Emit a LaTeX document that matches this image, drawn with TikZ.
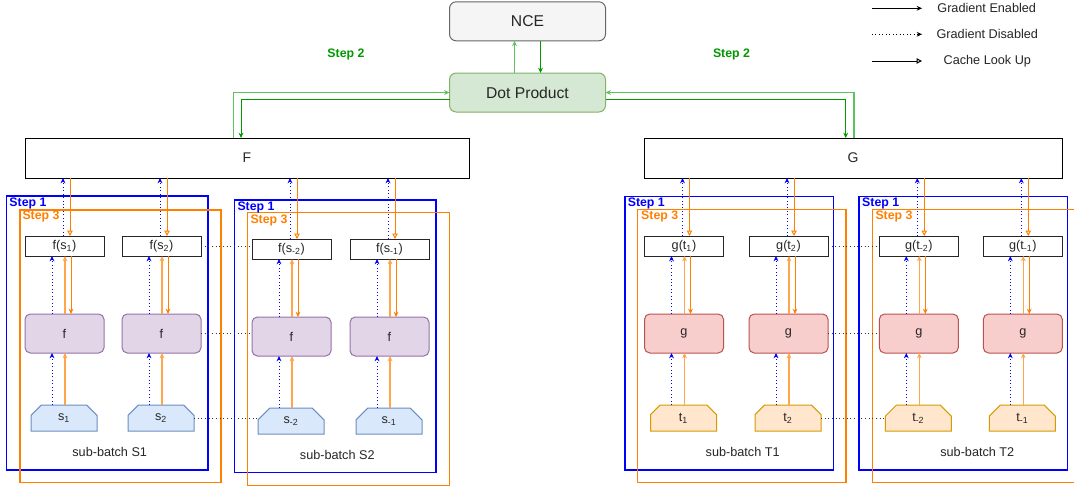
\documentclass[tikz,border=0pt]{standalone}
\usepackage{fontspec}
\setmainfont{Liberation Sans}
\usetikzlibrary{arrows.meta,calc,shapes.misc}
\definecolor{cblue}{HTML}{0000FF}
\definecolor{corange}{HTML}{FF8000}
\definecolor{corangel}{HTML}{FFA64D}
\definecolor{cgreen}{HTML}{009900}
\definecolor{cgreenl}{HTML}{5EC25E}
\definecolor{ffill}{HTML}{E1D5E7}
\definecolor{fstroke}{HTML}{9673A6}
\definecolor{gfill}{HTML}{F8CECC}
\definecolor{gstroke}{HTML}{B85450}
\definecolor{sfill}{HTML}{DAE8FC}
\definecolor{sstroke}{HTML}{6C8EBF}
\definecolor{tfill}{HTML}{FFE6CC}
\definecolor{tstroke}{HTML}{D79B00}
\definecolor{ncefill}{HTML}{F5F5F5}
\definecolor{ncestroke}{HTML}{666666}
\definecolor{dotfill}{HTML}{D5E8D4}
\definecolor{dotstroke}{HTML}{82B366}
\tikzset{
  every node/.style={inner sep=0pt, outer sep=0pt, font=\fontsize{9.5}{11}\selectfont, text=black!85},
  tip/.style={-{Stealth[length=4pt,width=3.6pt]}},
  otip/.style={-{Triangle[open,length=4pt,width=4pt]}},
  outbox/.style={draw=black!85, fill=white, line width=0.75pt, minimum width=59.25pt, minimum height=15pt},
  bigbox/.style={draw=black, fill=white, line width=0.75pt, minimum height=30pt, font=\fontsize{10.5}{12}\selectfont},
  fproc/.style={draw=fstroke, fill=ffill, rounded corners=4pt, line width=0.75pt, minimum width=59.25pt, minimum height=29.25pt},
  gproc/.style={draw=gstroke, fill=gfill, rounded corners=4pt, line width=0.75pt, minimum width=59.25pt, minimum height=29.25pt},
  inshape/.style={chamfered rectangle, chamfered rectangle corners={north west,north east}, chamfered rectangle xsep=8pt, chamfered rectangle ysep=8pt, line width=0.75pt, minimum width=49.5pt, minimum height=19.5pt},
  sin/.style={inshape, draw=sstroke, fill=sfill},
  tin/.style={inshape, draw=tstroke, fill=tfill},
  topbox/.style={rounded corners=5pt, line width=0.75pt, minimum width=117pt, minimum height=29.25pt, font=\fontsize{11.75}{13}\selectfont},
  bdot/.style={draw=cblue, dotted, line width=0.6pt, tip},
  ocache/.style={draw=corange, line width=0.75pt, otip},
  oup/.style={draw=corangel, line width=1pt, tip},
  odown/.style={draw=corange, line width=0.75pt, tip},
  gup/.style={draw=cgreenl, line width=0.9pt, tip},
  gdown/.style={draw=cgreen, line width=0.75pt, tip},
  hdot/.style={draw=black!80, dotted, line width=0.75pt},
  s1box/.style={draw=cblue, line width=1pt},
  s3box/.style={draw=corange, line width=1pt},
  s1lbl/.style={anchor=west, text=cblue, font=\bfseries\fontsize{9.25}{11}\selectfont},
  s3lbl/.style={anchor=west, text=corange, font=\bfseries\fontsize{9.25}{11}\selectfont},
  s2lbl/.style={text=cgreen, font=\bfseries\fontsize{9.25}{11}\selectfont},
  leg/.style={font=\fontsize{9.5}{11}\selectfont},
}
\newcommand\mkcol[9]{%
  \node[outbox] (#1o) at (#2,246+#3) {#6};
  \node[#4] (#1p) at (#2,333.5+#3) {#7};
  \node[#5] (#1i) at (#2-0.5,418+#3) {#8};
  \draw[bdot] ($(#1o.north)+(-1.5,0)$) -- ($(#1o.north |- #9.south)+(-1.5,0)$);
  \draw[ocache] ($(#1o.north |- #9.south)+(5.5,0)$) -- ($(#1o.north)+(5.5,0)$);
  \draw[bdot] ($(#1p.north)+(-12.5,0)$) -- ($(#1o.south)+(-12.5,0)$);
  \draw[oup] ($(#1p.north)+(0.5,0)$) -- ($(#1o.south)+(0.5,0)$);
  \draw[odown] ($(#1o.south)+(6.5,0)$) -- ($(#1p.north)+(6.5,0)$);
  \draw[bdot] ($(#1i.north)+(-12,0)$) -- ($(#1p.south)+(-12.5,0)$);
  \draw[oup] ($(#1i.north)+(1,0)$) -- ($(#1p.south)+(0.5,0)$);
}
\begin{document}
\begin{tikzpicture}[x=0.75pt,y=-0.75pt]
\clip (0,0) rectangle (1074,489);
\fill[white] (0,0) rectangle (1074,489);

% top nodes
\node[topbox, draw=ncestroke, fill=ncefill] (NCE) at (527.5,21.3) {NCE};
\node[topbox, draw=dotstroke, fill=dotfill] (Dot) at (527.5,92.5) {Dot Product};
\node[s2lbl] (st2a) at (346,54.5) {Step 2};
\node[s2lbl] (st2b) at (731.5,54.5) {Step 2};

% F and G
\node[bigbox, minimum width=333pt] (F) at (247,158) {F};
\node[bigbox, minimum width=313.5pt] (G) at (853,158) {G};

% green connectors
\draw[gup] ($(Dot.north)+(-13,0)$) -- ($(NCE.south)+(-13,0)$);
\draw[gdown] ($(NCE.south)+(13,0)$) -- ($(Dot.north)+(13,0)$);
\draw[gup] ($(F.north)+(-13.7,0)$) |- (Dot.west);
\draw[gdown] ($(Dot.west)+(0,6.8)$) -| ($(F.north)+(-6,0)$);
\draw[gup] ($(G.north)+(1,0)$) |- (Dot.east);
\draw[gdown] ($(Dot.east)+(0,6.8)$) -| ($(G.north)+(-7.3,0)$);

% legend
\coordinate (l1a) at (872,8.3);  \coordinate (l1b) at (922,8.3);
\coordinate (l2a) at (872,34.3); \coordinate (l2b) at (922,34.3);
\coordinate (l3a) at (872,61);   \coordinate (l3b) at (922,61);
\draw[black, line width=0.75pt, tip] (l1a) -- (l1b);
\draw[black, dotted, line width=0.6pt, tip] (l2a) -- (l2b);
\draw[black, line width=0.75pt, otip] (l3a) -- (l3b);
\node[leg] (lg1) at (986.7,8.3) {Gradient Enabled};
\node[leg] (lg2) at (987.3,34.3) {Gradient Disabled};
\node[leg] (lg3) at (987.3,61) {Cache Look Up};

% step boxes
\draw[s1box] (6.7,196) rectangle (208,470);
\draw[s3box] (20,210) rectangle (221,482.7);
\draw[s1box] (234.3,200) rectangle (436,472.7);
\draw[s3box] (247.7,212.7) rectangle (449.3,485.7);
\draw[s1box] (625,196.7) rectangle (833.3,470);
\draw[s3box] (637.7,209.3) rectangle (846,482.7);
\draw[s1box] (859,196.7) rectangle (1067.7,470);
\draw[s3box] (872.3,209.3) rectangle (1085,482.7);

\node[s1lbl] (sl1a) at (9.5,203.3) {Step 1};
\node[s3lbl] (sl3a) at (22.5,216.8) {Step 3};
\node[s1lbl] (sl1b) at (237.5,207.3) {Step 1};
\node[s3lbl] (sl3b) at (250.5,220.7) {Step 3};
\node[s1lbl] (sl1c) at (627.8,203.3) {Step 1};
\node[s3lbl] (sl3c) at (641.2,216.8) {Step 3};
\node[s1lbl] (sl1d) at (862.2,203.3) {Step 1};
\node[s3lbl] (sl3d) at (875.5,216.8) {Step 3};

% columns
\mkcol{sa}{64.5}{0}{fproc}{sin}{f(s\textsubscript{1})}{f}{s\textsubscript{1}}{F}
\mkcol{sb}{161.5}{0}{fproc}{sin}{f(s\textsubscript{2})}{f}{s\textsubscript{2}}{F}
\mkcol{sc}{291.5}{3}{fproc}{sin}{f(s\textsubscript{-2})}{f}{s\textsubscript{-2}}{F}
\mkcol{sd}{389.5}{3}{fproc}{sin}{f(s\textsubscript{-1})}{f}{s\textsubscript{-1}}{F}
\mkcol{ta}{684}{0}{gproc}{tin}{g(t\textsubscript{1})}{g}{t\textsubscript{1}}{G}
\mkcol{tb}{788.5}{0}{gproc}{tin}{g(t\textsubscript{2})}{g}{t\textsubscript{2}}{G}
\mkcol{tc}{918.8}{0}{gproc}{tin}{g(t\textsubscript{-2})}{g}{t\textsubscript{-2}}{G}
\mkcol{td}{1022.8}{0}{gproc}{tin}{g(t\textsubscript{-1})}{g}{t\textsubscript{-1}}{G}

% dotted links between sub-batches
\draw[hdot] (sbo.east) -- (sco.west |- sbo.east);
\draw[hdot] (sbp.east) -- (scp.west |- sbp.east);
\draw[hdot] (sbi.east) -- (sci.west |- sbi.east);
\draw[hdot] (tbo.east) -- (tco.west |- tbo.east);
\draw[hdot] (tbp.east) -- (tcp.west |- tbp.east);
\draw[hdot] (tbi.east) -- (tci.west |- tbi.east);

% sub-batch labels
\node (lbS1) at (109.7,451.7) {sub-batch S1};
\node (lbS2) at (337.3,455) {sub-batch S2};
\node (lbT1) at (742.7,451.7) {sub-batch T1};
\node (lbT2) at (977.3,451.7) {sub-batch T2};
\end{tikzpicture}
\end{document}
